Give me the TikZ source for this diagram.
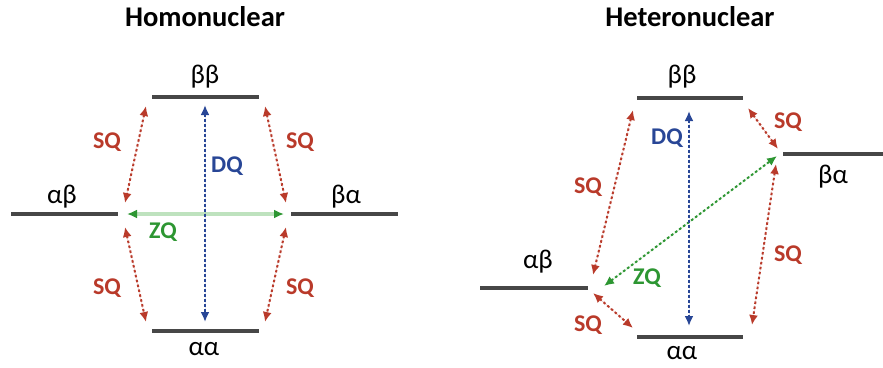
\documentclass[tikz,border=0pt]{standalone}
\usepackage{fontspec}
\setmainfont{Carlito}
\usetikzlibrary{arrows.meta}
\definecolor{sqred}{RGB}{185,58,42}
\definecolor{dqblue}{RGB}{40,70,150}
\definecolor{zqgreen}{RGB}{45,150,50}
\definecolor{zqlight}{RGB}{190,226,190}

\begin{document}
\begin{tikzpicture}[
  x=1pt, y=-1pt,
  >={Latex[length=10pt,width=9pt]},
  level/.style={draw=black!72, line width=3.3pt},
  spin/.style={font=\fontsize{27}{29}\selectfont, inner sep=0pt},
  title/.style={font=\bfseries\fontsize{28.5}{30}\selectfont, inner sep=0pt},
  tag/.style={font=\bfseries\fontsize{24}{26}\selectfont, inner sep=0pt},
  sq/.style={<->, draw=sqred, fill=sqred, line width=2pt, dash pattern=on 2.5pt off 2.5pt},
  dq/.style={<->, draw=dqblue, fill=dqblue, line width=2pt, dash pattern=on 2.5pt off 2.5pt},
  zq/.style={<->, draw=zqgreen, fill=zqgreen, line width=2pt, dash pattern=on 2.5pt off 2.5pt},
  zqsolid/.style={{Latex[length=10pt,width=9pt,color=zqgreen]}-{Latex[length=10pt,width=9pt,color=zqgreen]}, draw=zqlight, line width=4pt}
]
\useasboundingbox (0,0) rectangle (883,367);

% homonuclear
\node[title] (homo) at (205,17) {Homonuclear};
\draw[level] (152,97) -- (259,97);
\draw[level] (152,331) -- (259,331);
\draw[level] (11,214) -- (118,214);
\draw[level] (291,214) -- (398,214);
\node[spin] (hbb) at (205,77) {ββ};
\node[spin] (haa) at (204,349) {αα};
\node[spin] (hab) at (62,197) {αβ};
\node[spin] (hba) at (346,197) {βα};

\coordinate (hbbL) at (146,106);
\coordinate (hbbR) at (265,106);
\coordinate (hbbC) at (205,105);
\coordinate (haaL) at (146,322);
\coordinate (haaR) at (265,322);
\coordinate (haaC) at (205,322);
\coordinate (habU) at (125,203);
\coordinate (habD) at (125,227);
\coordinate (habR) at (127,214);
\coordinate (hbaU) at (286,203);
\coordinate (hbaD) at (286,227);
\coordinate (hbaL) at (284,214);

\draw[sq] (hbbL) -- (habU);
\draw[sq] (hbbR) -- (hbaU);
\draw[sq] (habD) -- (haaL);
\draw[sq] (hbaD) -- (haaR);
\draw[zqsolid] (habR) -- (hbaL);
\draw[dq] (hbbC) -- (haaC);

\node[tag, text=sqred] (hsq1) at (107,142) {SQ};
\node[tag, text=sqred] (hsq2) at (300,142) {SQ};
\node[tag, text=sqred] (hsq3) at (107,288) {SQ};
\node[tag, text=sqred] (hsq4) at (300,288) {SQ};
\node[tag, text=dqblue] (hdq) at (227,166) {DQ};
\node[tag, text=zqgreen] (hzq) at (163,232) {ZQ};

% heteronuclear
\node[title] (hetero) at (690,17) {Heteronuclear};
\draw[level] (637,98) -- (743,98);
\draw[level] (637,337) -- (743,337);
\draw[level] (783,154) -- (883,154);
\draw[level] (480,288) -- (588,288);
\node[spin] (ebb) at (682,77) {ββ};
\node[spin] (eaa) at (682,353) {αα};
\node[spin] (eba) at (833,177) {βα};
\node[spin] (eab) at (538,262) {αβ};

\coordinate (ebbL) at (633,110);
\coordinate (ebbR) at (748,108);
\coordinate (ebbC) at (689,111);
\coordinate (eaaL) at (633,328);
\coordinate (eaaR) at (752,325);
\coordinate (eaaC) at (689,326);
\coordinate (ebaU) at (778,149);
\coordinate (ebaL) at (777,156);
\coordinate (ebaD) at (776,164);
\coordinate (eabU) at (593,275);
\coordinate (eabR) at (604,286);
\coordinate (eabD) at (593,293);

\draw[sq] (ebbL) -- (eabU);
\draw[sq] (ebbR) -- (ebaU);
\draw[sq] (ebaD) -- (eaaR);
\draw[sq] (eabD) -- (eaaL);
\draw[zq] (eabR) -- (ebaL);
\draw[dq] (ebbC) -- (eaaC);

\node[tag, text=sqred] (esq1) at (588,187) {SQ};
\node[tag, text=sqred] (esq2) at (788,122) {SQ};
\node[tag, text=sqred] (esq3) at (788,255) {SQ};
\node[tag, text=sqred] (esq4) at (588,325) {SQ};
\node[tag, text=dqblue] (edq) at (667,138) {DQ};
\node[tag, text=zqgreen] (ezq) at (647,278) {ZQ};
\end{tikzpicture}
\end{document}
